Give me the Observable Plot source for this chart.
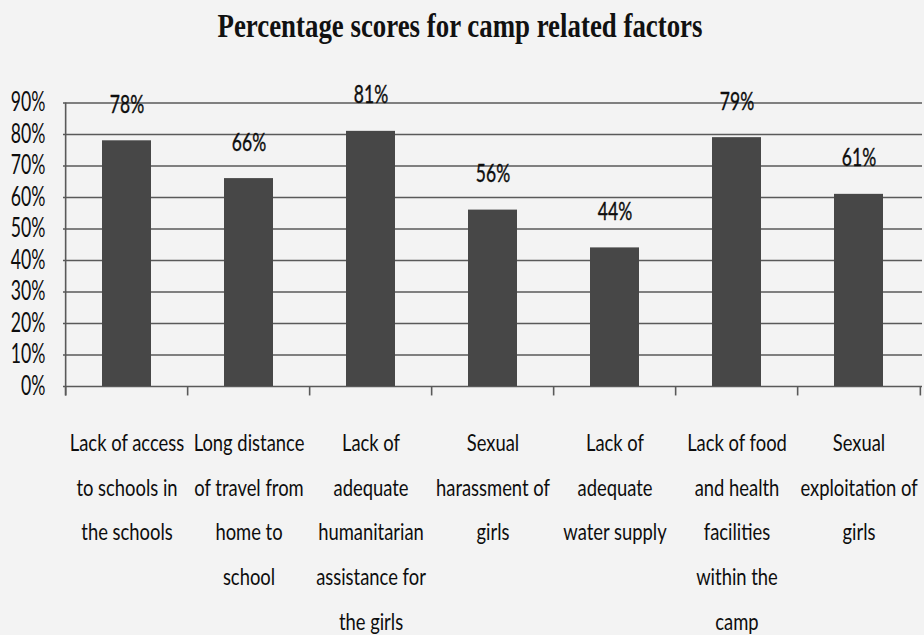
<!DOCTYPE html>
<html><head><meta charset="utf-8">
<script src="https://cdn.jsdelivr.net/npm/d3@7"></script>
<script src="https://cdn.jsdelivr.net/npm/@observablehq/plot@0.6"></script>
<style>
body{margin:0;background:#f3f3f3;width:924px;height:635px;overflow:hidden;}
#title{height:70px;position:relative;text-align:center;}
#title span{display:inline-block;margin-top:9px;margin-left:-4px;font-family:"Liberation Serif",serif;font-weight:bold;font-size:34px;line-height:1;white-space:nowrap;color:#111;transform-origin:center;}
</style></head><body>
<div id="title"><span id="tt">Percentage scores for camp related factors</span></div>
<div id="chart"></div>
<script>
const categories = ["access","distance","humanitarian","harassment","water","food","exploitation"];
const categoryLabels = [
  "Lack of access\nto schools in\nthe schools",
  "Long distance\nof travel from\nhome to\nschool",
  "Lack of\nadequate\nhumanitarian\nassistance for\nthe girls",
  "Sexual\nharassment of\ngirls",
  "Lack of\nadequate\nwater supply",
  "Lack of food\nand health\nfacilities\nwithin the\ncamp",
  "Sexual\nexploitation of\ngirls"
];
const values = [78, 66, 81, 56, 44, 79, 61];
const yTicks = [0, 10, 20, 30, 40, 50, 60, 70, 80, 90];

const data = categories.map((c, i) => ({category: c, value: values[i]}));
const labelOf = Object.fromEntries(categories.map((c, i) => [c, categoryLabels[i]]));

const W = 924, ML = 63, MR = 2;
const step = (W - ML - MR) / categories.length;

// horizontally condense text (the original uses a narrow font)
const condense = (k) => (index, scales, values, dims, ctx, next) => {
  const g = next(index, scales, values, dims, ctx);
  g.querySelectorAll("text").forEach(t => {
    const tr = t.getAttribute("transform") || "";
    t.setAttribute("transform", tr + ` scale(${k},1)`);
  });
  return g;
};

const gridColor = "#595959";
const ink = "#0d0d0d";

const chart = Plot.plot({
  width: W,
  height: 565,
  marginLeft: ML,
  marginRight: MR,
  marginTop: 32.5,
  marginBottom: 249,
  style: {background: "transparent", fontFamily: "Lato, 'Open Sans', sans-serif", color: ink},
  x: {domain: categories, paddingInner: 0.6, paddingOuter: 0.3, axis: null},
  y: {domain: [0, 90], axis: null},
  marks: [
    Plot.ruleY(yTicks, {stroke: gridColor, strokeWidth: 1.6}),
    Plot.barY(data, {x: "category", y: "value", fill: "#474747"}),
    Plot.ruleX([categories[0]], {x: d => d, dx: -step / 2, y1: -3, y2: 90, stroke: gridColor, strokeWidth: 1.6}),
    Plot.ruleX(categories, {x: d => d, dx: -step / 2, y1: -3, y2: 0, stroke: gridColor, strokeWidth: 1.6}),
    Plot.ruleX([categories[categories.length - 1]], {x: d => d, dx: step / 2, y1: -3, y2: 0, stroke: gridColor, strokeWidth: 1.6}),
    Plot.text(data, {x: "category", y: "value", text: d => d.value + "%", dy: -36, fontSize: 25, fill: ink, stroke: ink, strokeWidth: 0.4, render: condense(0.7)}),
    Plot.axisX({label: null, tickSize: 0, tickPadding: 33, fontSize: 23, lineHeight: 1.94, tickFormat: d => labelOf[d], fill: ink, stroke: ink, strokeWidth: 0.3, render: condense(0.8)}),
    Plot.axisY({label: null, ticks: yTicks, tickSize: 0, tickPadding: 18, fontSize: 26, tickFormat: d => d + "%", fill: ink, stroke: ink, strokeWidth: 0.4, render: condense(0.68)})
  ]
});
document.getElementById("chart").appendChild(chart);

const tt = document.getElementById("tt");
const w = tt.getBoundingClientRect().width;
tt.style.transform = `scaleX(${485 / w})`;
</script>
</body></html>
